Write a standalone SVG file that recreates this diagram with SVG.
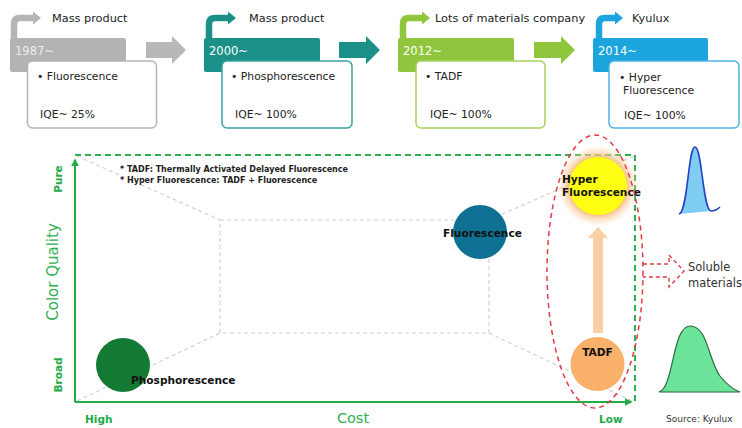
<svg xmlns="http://www.w3.org/2000/svg" width="742" height="428" viewBox="0 0 742 428">
<defs>
<style>
text{font-family:"DejaVu Sans","Liberation Sans",sans-serif;fill:#222}
.hdr{font-size:11.3px}
.yr{font-size:11.5px;fill:#fff}
.bt{font-size:10.8px}
.lbl{font-size:10.6px;font-weight:bold;fill:#111}
.note{font-size:8px;font-weight:bold;fill:#222}
.ax{font-weight:bold;font-size:10.5px;fill:#22aa48}
.axt{font-size:15px;fill:#2fb054}
.box{fill:#fff;stroke-width:1.5}
.gd{fill:none;stroke:#d2d2d2;stroke-width:1.2;stroke-dasharray:4 3}
.bent{fill:none;stroke-width:6.5;stroke-linejoin:round}
</style>
<radialGradient id="glow" cx="0.5" cy="0.5" r="0.5">
<stop offset="0.7" stop-color="#f5b877" stop-opacity="0.9"/>
<stop offset="1" stop-color="#fbe3c8" stop-opacity="0"/>
</radialGradient>
<marker id="ah" viewBox="0 0 10 10" refX="8" refY="5" markerWidth="4" markerHeight="4" orient="auto">
<path d="M0,0 L10,5 L0,10 Z" fill="#22aa48"/>
</marker>
</defs>

<g id="stage1">
<path class="bent" stroke="#b5b5b5" d="M14,40 V24 Q14,18 20,18 H34"/>
<path d="M33,11.5 L41,18 L33,24.5 Z" fill="#b5b5b5"/>
<text class="hdr" x="52" y="22">Mass product</text>
<rect x="10" y="38" width="116" height="34" rx="2" fill="#b3b3b3"/>
<text class="yr" x="15" y="55" style="fill:#ececec">1987~</text>
<rect class="box" x="27.5" y="61" width="129" height="67" rx="5" stroke="#b4b4b4"/>
<text class="bt" x="37" y="80">• Fluorescence</text>
<text class="bt" x="40" y="118">IQE~ 25%</text>
</g>
<g id="arrow1"><path d="M146,42 H172 V36 L186,50 L172,64 V58 H146 Z" fill="#b8b8b8"/></g>

<g id="stage2">
<path class="bent" stroke="#1a9089" d="M209,40 V24 Q209,18 215,18 H229"/>
<path d="M228,11.5 L236,18 L228,24.5 Z" fill="#1a9089"/>
<text class="hdr" x="249" y="22">Mass product</text>
<rect x="204" y="38" width="116" height="34" rx="2" fill="#1a9089"/>
<text class="yr" x="209" y="55">2000~</text>
<rect class="box" x="222" y="61" width="130" height="67" rx="5" stroke="#3aa39c"/>
<text class="bt" x="231" y="80">• Phosphorescence</text>
<text class="bt" x="235" y="118">IQE~ 100%</text>
</g>
<g id="arrow2"><path d="M339,42 H366 V36 L380,50 L366,64 V58 H339 Z" fill="#1a9089"/></g>

<g id="stage3">
<path class="bent" stroke="#8fc63d" d="M403,40 V24 Q403,18 409,18 H423"/>
<path d="M422,11.5 L430,18 L422,24.5 Z" fill="#8fc63d"/>
<text class="hdr" x="435" y="22">Lots of materials company</text>
<rect x="398" y="38" width="116" height="34" rx="2" fill="#8fc63d"/>
<text class="yr" x="403" y="55">2012~</text>
<rect class="box" x="416" y="61" width="129" height="67" rx="5" stroke="#a6d25e"/>
<text class="bt" x="425" y="80">• TADF</text>
<text class="bt" x="430" y="118">IQE~ 100%</text>
</g>
<g id="arrow3"><path d="M534,42 H561 V36 L575,50 L561,64 V58 H534 Z" fill="#8fc63d"/></g>

<g id="stage4">
<path class="bent" stroke="#1ca4dd" d="M599,40 V24 Q599,18 605,18 H616"/>
<path d="M615,11.5 L623,18 L615,24.5 Z" fill="#1ca4dd"/>
<text class="hdr" x="632" y="22">Kyulux</text>
<rect x="593" y="38" width="115" height="34" rx="2" fill="#1ca4dd"/>
<text class="yr" x="598" y="55">2014~</text>
<rect class="box" x="609" y="61" width="130" height="67" rx="5" stroke="#4cb5e6"/>
<text class="bt" x="619" y="81">• Hyper</text>
<text class="bt" x="623" y="94">Fluorescence</text>
<text class="bt" x="624" y="119">IQE~ 100%</text>
</g>

<g id="perspective">
<rect class="gd" x="220" y="220" width="269" height="113"/>
<path class="gd" d="M77,156 L220,220 M77,401 L220,333 M489,220 L634,156 M489,333 L632,401"/>
</g>

<g id="connectors">
<path d="M75,155 H635 V402" fill="none" stroke="#2cb050" stroke-width="2" stroke-dasharray="6 4"/>
<path d="M75,402 V160" fill="none" stroke="#22aa48" stroke-width="2" marker-end="url(#ah)"/>
<path d="M75,402 H631" fill="none" stroke="#22aa48" stroke-width="2" marker-end="url(#ah)"/>
<path d="M593,333 V238 H588 L598,227 L608,238 H603 V333 Z" fill="#f9cfa6"/>
<path d="M643,264 H669 V255 L684,271 L669,287 V277 H643" fill="none" stroke="#e23a44" stroke-width="1.4" stroke-dasharray="4 3"/>
</g>

<g id="axis-labels">
<text class="ax" transform="translate(62,179) rotate(-90)" text-anchor="middle">Pure</text>
<text class="ax" transform="translate(62,375) rotate(-90)" text-anchor="middle">Broad</text>
<text class="axt" transform="translate(58,272) rotate(-90)" text-anchor="middle">Color Quality</text>
<text class="ax" x="85" y="423">High</text>
<text class="axt" x="353" y="423" text-anchor="middle" style="font-size:14.5px">Cost</text>
<text class="ax" x="599" y="423">Low</text>
<text x="666" y="422" style="font-size:9px;fill:#333">Source: Kyulux</text>
</g>

<g id="notes">
<text class="note" x="120" y="172">* TADF: Thermally Activated Delayed Fluorescence</text>
<text class="note" x="120" y="183">* Hyper Fluorescence: TADF + Fluorescence</text>
</g>

<g id="phosphorescence">
<circle cx="123" cy="365" r="27" fill="#127a33"/>
<text class="lbl" x="131" y="384">Phosphorescence</text>
</g>
<g id="fluorescence">
<circle cx="480" cy="232" r="27" fill="#0e7093"/>
<text class="lbl" x="443" y="237">Fluorescence</text>
</g>
<g id="tadf">
<circle cx="597.5" cy="364" r="27" fill="#f8b06a"/>
<text class="lbl" x="597.5" y="356" text-anchor="middle">TADF</text>
</g>
<g id="hyper">
<circle cx="598" cy="186" r="41" fill="url(#glow)"/>
<circle cx="598" cy="186" r="29" fill="#ffff14"/>
<text class="lbl" x="562" y="183">Hyper</text>
<text class="lbl" x="562" y="196">Fluorescence</text>
</g>

<g id="ellipse">
<ellipse cx="595" cy="271.5" rx="48" ry="136.5" fill="none" stroke="#e23a44" stroke-width="1.5" stroke-dasharray="5 4"/>
</g>

<g id="soluble">
<text x="688" y="271" style="font-size:11.5px;fill:#333">Soluble</text>
<text x="688" y="287" style="font-size:11.5px;fill:#333">materials</text>
</g>

<g id="spectrum-narrow">
<path d="M679,214 C688,212 688,147 695,147 C702,147 703,211 711,211 C715,211 718,209 720,207 L711,211 L679,214 Z" fill="#80cdf4"/>
<path d="M679,214 C688,212 688,147 695,147 C702,147 703,211 711,211 C715,211 718,209 720,207" fill="none" stroke="#2740c0" stroke-width="1.6"/>
</g>
<g id="spectrum-broad">
<path d="M659,392 C674,388 672,326 690,326 C708,326 708,360 720,376 C728,386 734,390 740,392 Z" fill="#6ce39a" stroke="#2f6b3d" stroke-width="1.2"/>
</g>
</svg>
